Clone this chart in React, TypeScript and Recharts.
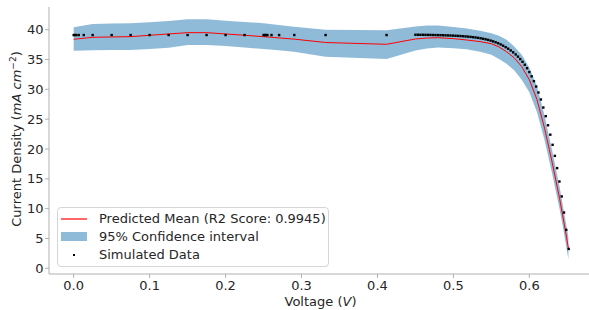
import React from 'react';
import { ComposedChart, XAxis, YAxis, Area, Line, Scatter, Legend } from 'recharts';

// ---- Simulated data (Voltage V, Current density mA/cm^2) ----
const simVoltage = [
  0, 0.0015, 0.0035, 0.0067, 0.0133, 0.025, 0.05, 0.075, 0.1, 0.125, 0.15, 0.175, 0.2, 0.225,
  0.25, 0.2515, 0.253, 0.255, 0.2605, 0.2705, 0.2905, 0.3317, 0.412,
  0.45, 0.4533, 0.4566, 0.4599, 0.4632, 0.4665, 0.4698, 0.4731, 0.4764, 0.4797, 0.483, 0.4863,
  0.4896, 0.4929, 0.4962, 0.4995, 0.5028, 0.5061, 0.5094, 0.5127, 0.516, 0.5193, 0.5226, 0.5259,
  0.5292, 0.5325, 0.5358, 0.5391, 0.5424, 0.5457, 0.549, 0.5523, 0.5556, 0.5589, 0.5622, 0.5655,
  0.5688, 0.5721, 0.5754, 0.5787, 0.582, 0.585, 0.588, 0.591, 0.594, 0.597, 0.6, 0.603, 0.606,
  0.609, 0.612, 0.6152, 0.6184, 0.6216, 0.6246, 0.6276, 0.6306, 0.6336, 0.6366, 0.6396, 0.6426,
  0.6456, 0.6486, 0.6518,
];
const simCurrent = [
  39.1, 39.1, 39.1, 39.1, 39.1, 39.1, 39.1, 39.1, 39.1, 39.1, 39.1, 39.1, 39.1, 39.1,
  39.1, 39.1, 39.1, 39.1, 39.1, 39.1, 39.1, 39.1, 39.1,
  39.15, 39.15, 39.14, 39.14, 39.13, 39.13, 39.12, 39.11, 39.1, 39.09, 39.08, 39.07,
  39.05, 39.04, 39.02, 39.0, 38.98, 38.96, 38.93, 38.9, 38.87, 38.83, 38.79, 38.74,
  38.69, 38.63, 38.56, 38.48, 38.39, 38.29, 38.17, 38.04, 37.89, 37.72, 37.53, 37.31,
  37.07, 36.81, 36.52, 36.2, 35.85, 35.48, 35.07, 34.62, 34.12, 33.55, 32.9, 32.18, 31.37,
  30.47, 29.47, 28.3, 26.95, 25.5, 23.98, 22.4, 20.7, 18.85, 16.8, 14.55, 12.05,
  9.35, 6.45, 3.25,
];

// ---- GP prediction: mean and 95% confidence interval ----
const predVoltage = [
  0, 0.025, 0.05, 0.075, 0.1, 0.125, 0.15, 0.175, 0.2, 0.225, 0.25, 0.27, 0.29, 0.3317, 0.412,
  0.45, 0.465, 0.48, 0.5, 0.5174, 0.535, 0.55, 0.56, 0.57, 0.58, 0.59, 0.6, 0.61, 0.62, 0.63,
  0.64, 0.645, 0.6514,
];
const predMean = [
  38.39, 38.72, 38.78, 38.83, 39.06, 39.28, 39.5, 39.5, 39.28, 39.06, 38.83, 38.62, 38.42, 37.85, 37.55,
  38.44, 38.6, 38.65, 38.5, 38.27, 38.0, 37.65, 37.1, 36.3, 35.3, 33.8, 31.6, 28.3, 23.5, 17.8,
  11.6, 8.1, 3.4,
];
const ciLower = [
  36.48, 36.55, 36.58, 36.6, 36.75, 36.98, 37.43, 37.43, 37.27, 37.0, 36.76, 36.55, 36.3, 35.48, 35.1,
  36.5, 36.85, 37.0, 36.9, 36.7, 36.3, 35.8, 35.1, 34.3, 33.2, 31.6, 29.5, 26.2, 21.5, 15.9,
  9.8, 6.4, 1.5,
];
const ciUpper = [
  40.4, 40.96, 41.02, 41.07, 41.25, 41.46, 41.74, 41.74, 41.5, 41.3, 41.07, 40.8, 40.5, 40.0, 39.9,
  40.55, 40.7, 40.68, 40.45, 40.2, 39.8, 39.4, 39.0, 38.3, 37.2, 35.8, 33.6, 30.5, 25.6, 19.8,
  13.5, 9.9, 5.2,
];

const xTicks = [0, 0.1, 0.2, 0.3, 0.4, 0.5, 0.6];
const yTicks = [0, 5, 10, 15, 20, 25, 30, 35, 40];

const meanLabel = 'Predicted Mean (R2 Score: 0.9945)';
const ciLabel = '95% Confidence interval';
const simLabel = 'Simulated Data';

const predData = predVoltage.map((v, i) => ({ v, mean: predMean[i], band: [ciLower[i], ciUpper[i]] }));
const simData = simVoltage.map((v, i) => ({ v, j: simCurrent[i] }));

const FONT = "'DejaVu Sans', sans-serif";
const TEXT = '#262626';
const SPINE = '#b0b0b0';
const BAND = '#8fbbd9';

const Dot = (props: any) => <rect x={props.cx - 1.2} y={props.cy - 1.2} width={2.4} height={2.4} fill="#000" />;

const YLabel = () => (
  <text x={21} y={139} transform="rotate(-90 21 139)" textAnchor="middle" fontFamily={FONT} fontSize={13} fill={TEXT}>
    Current Density (<tspan fontStyle="italic">mA cm</tspan>
    <tspan fontSize={9} dy={-5}>−2</tspan>
    <tspan dy={5}>)</tspan>
  </text>
);

const XLabel = () => (
  <text x={320.5} y={306} textAnchor="middle" fontFamily={FONT} fontSize={13} fill={TEXT}>
    Voltage (<tspan fontStyle="italic">V</tspan>)
  </text>
);

const rowText: React.CSSProperties = {
  position: 'absolute', left: 41.5, height: 16, lineHeight: '16px', whiteSpace: 'nowrap',
};

const LegendBox = () => (
  <div style={{
    position: 'relative', width: 272, height: 60, boxSizing: 'border-box',
    border: '1px solid #d6d6d6', borderRadius: 4, background: 'rgba(255,255,255,0.8)',
    fontFamily: FONT, fontSize: 13, color: TEXT,
  }}>
    <svg style={{ position: 'absolute', left: 3.5, top: 8 }} width={26} height={6}>
      <line x1={0} y1={3} x2={26} y2={3} stroke="red" strokeWidth={1.2} />
    </svg>
    <div style={{ ...rowText, top: 2.5 }}>{meanLabel}</div>
    <div style={{ position: 'absolute', left: 3.5, top: 24.3, width: 26, height: 9, background: BAND }} />
    <div style={{ ...rowText, top: 21 }}>{ciLabel}</div>
    <div style={{ position: 'absolute', left: 15.5, top: 46, width: 2.4, height: 2.4, background: '#000' }} />
    <div style={{ ...rowText, top: 39.3 }}>{simLabel}</div>
  </div>
);

export default function App() {
  return (
    <div style={{ position: 'absolute', left: 0, top: 0, width: 589, height: 310, overflow: 'hidden', background: '#fff' }}>
      <ComposedChart width={600} height={310} data={predData} margin={{ top: 7, right: 8, left: 0, bottom: 0 }}>
        <XAxis
          xAxisId="top"
          orientation="top"
          type="number"
          dataKey="v"
          domain={[-0.0325, 0.6825]}
          allowDataOverflow
          height={0}
          tick={false}
          tickLine={false}
          axisLine={{ stroke: SPINE, strokeWidth: 1 }}
        />
        <XAxis
          type="number"
          dataKey="v"
          domain={[-0.0325, 0.6825]}
          allowDataOverflow
          ticks={xTicks}
          tickFormatter={(t: number) => t.toFixed(1)}
          height={36}
          tickSize={4}
          tickMargin={3}
          axisLine={{ stroke: SPINE, strokeWidth: 1 }}
          tickLine={{ stroke: SPINE }}
          tick={{ fill: TEXT, fontSize: 13, fontFamily: FONT }}
          label={{ content: () => <XLabel /> }}
        />
        <YAxis
          type="number"
          domain={[-0.95, 43.8]}
          allowDataOverflow
          ticks={yTicks}
          width={49}
          tickSize={4}
          tickMargin={1.5}
          axisLine={{ stroke: SPINE, strokeWidth: 1 }}
          tickLine={{ stroke: SPINE }}
          tick={{ fill: TEXT, fontSize: 13, fontFamily: FONT }}
          label={{ content: () => <YLabel /> }}
        />
        <Area
          type="linear"
          dataKey="band"
          stroke="none"
          fill="#1f77b4"
          fillOpacity={0.5}
          isAnimationActive={false}
          dot={false}
          activeDot={false}
        />
        <Line
          type="linear"
          dataKey="mean"
          stroke="red"
          strokeWidth={1}
          dot={false}
          activeDot={false}
          isAnimationActive={false}
        />
        <Scatter data={simData} dataKey="j" shape={Dot} isAnimationActive={false} />
        <Legend
          layout="vertical"
          align="center"
          verticalAlign="middle"
          content={() => <LegendBox />}
          wrapperStyle={{ left: 56.5, top: 207, width: 272, height: 60 }}
        />
      </ComposedChart>
    </div>
  );
}
